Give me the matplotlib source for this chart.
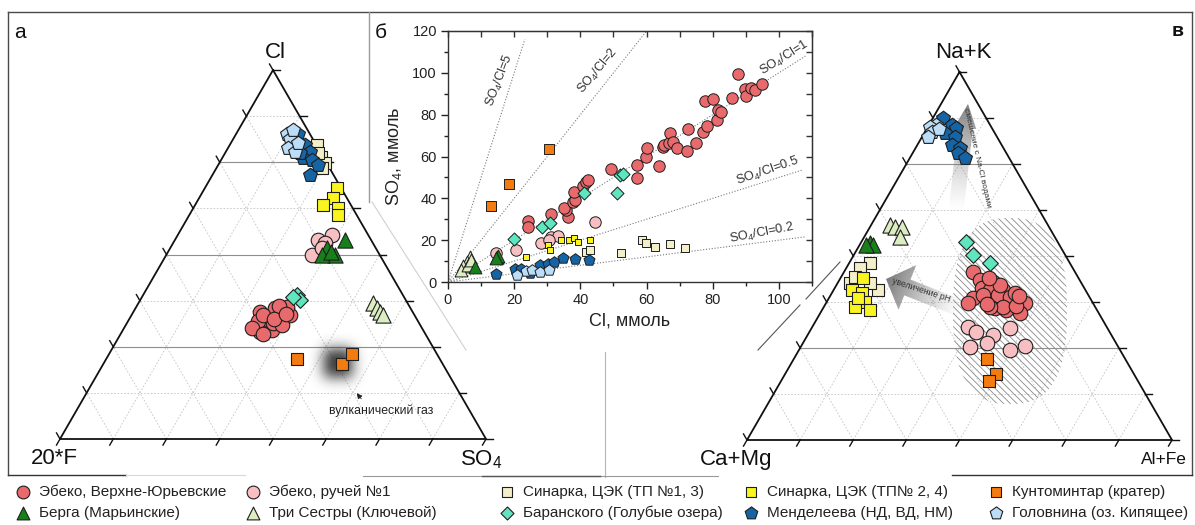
import numpy as np
import matplotlib
matplotlib.use('Agg')
import matplotlib.pyplot as plt
from matplotlib.patches import Polygon
from matplotlib.ticker import MultipleLocator

plt.rcParams['font.family'] = ['Liberation Sans', 'DejaVu Sans']
plt.rcParams['mathtext.fontset'] = 'custom'
plt.rcParams['mathtext.rm'] = 'Liberation Sans'
plt.rcParams['mathtext.it'] = 'Liberation Sans:italic'
plt.rcParams['mathtext.bf'] = 'Liberation Sans:bold'
plt.rcParams['hatch.linewidth'] = 0.6
plt.rcParams['hatch.color'] = '#7a7a7a'

# ====================== DATA ======================
series_names = ['Эбеко, Верхне-Юрьевские', 'Эбеко, ручей №1', 'Синарка, ЦЭК (ТП №1, 3)',
                'Синарка, ЦЭК (ТП№ 2, 4)', 'Кунтоминтар (кратер)', 'Берга (Марьинские)',
                'Три Сестры (Ключевой)', 'Баранского (Голубые озера)', 'Менделеева (НД, ВД, НМ)',
                'Головнина (оз. Кипящее)']

# ---- panel б : Cl vs SO4, mmol ----
b_ebeko_vy_cl = [24.2, 24.3, 31.1, 36.3, 35.8, 35.2, 37.9, 38.5, 38.1, 40.7, 41.7, 42.2, 49.2, 57.0,
                 57.0, 59.8, 60.2, 63.8, 64.9, 65.3, 66.9, 67.1, 68.1, 69.3, 72.1, 72.6, 74.9, 77.1,
                 77.6, 78.2, 80.2, 81.2, 81.7, 82.5, 85.8, 87.7, 89.9, 90.0, 91.5, 92.7, 94.8]
b_ebeko_vy_so4 = [29.2, 26.4, 32.5, 30.9, 34.4, 35.4, 38.4, 39.0, 42.9, 45.9, 47.6, 48.7, 54.0, 55.9,
                  49.6, 59.6, 63.9, 55.6, 64.7, 65.5, 66.3, 71.1, 67.1, 63.9, 62.6, 73.1, 66.3, 71.6,
                  86.7, 74.6, 87.5, 77.4, 82.2, 81.5, 87.8, 99.4, 92.1, 88.9, 92.6, 91.8, 94.6]
b_ebeko_r1_cl = [14.5, 20.4, 28.2, 31.2, 33.2, 44.4, 30.4]
b_ebeko_r1_so4 = [14.0, 15.5, 18.8, 21.5, 21.8, 28.8, 20.0]
b_sin13_cl = [41.8, 42.8, 52.2, 58.7, 59.7, 62.7, 67.0, 71.5]
b_sin13_so4 = [14.3, 15.1, 13.9, 19.9, 18.8, 16.7, 18.0, 16.4]
b_sin24_cl = [23.6, 30.2, 30.7, 34.2, 36.6, 38.1, 39.2, 42.8]
b_sin24_so4 = [12.0, 17.6, 15.2, 20.0, 20.3, 20.9, 19.3, 20.0]
b_kunt_cl = [13.0, 18.5, 30.5]
b_kunt_so4 = [36.3, 46.7, 63.5]
b_berga_cl = [8.2, 14.8, 15.2, 14.6]
b_berga_so4 = [7.3, 12.0, 12.5, 11.3]
b_tri_cl = [6.5, 5.6, 4.6, 3.8, 6.0, 7.0]
b_tri_so4 = [11.8, 9.8, 7.8, 5.6, 8.2, 10.6]
b_bar_cl = [19.9, 28.3, 30.8, 41.2, 51.0, 52.0, 53.0]
b_bar_so4 = [20.4, 26.4, 28.4, 42.7, 42.4, 51.0, 51.8]
b_mend_cl = [14.5, 20.3, 22.0, 24.7, 27.9, 30.2, 32.1, 34.7, 38.5, 42.7]
b_mend_so4 = [3.8, 6.0, 6.3, 4.3, 8.0, 8.6, 9.6, 11.6, 11.2, 10.4]
b_golov_cl = [20.8, 23.7, 25.5, 27.7, 30.5]
b_golov_so4 = [3.3, 5.2, 5.5, 4.8, 5.9]

ratio_values = [5, 2, 1, 0.5, 0.2]
ratio_labels = ['SO$_4$/Cl=5', 'SO$_4$/Cl=2', 'SO$_4$/Cl=1', 'SO$_4$/Cl=0.5', 'SO$_4$/Cl=0.2']
ratio_xmax = [23.2, 60.0, 108.0, 107.0, 108.0]

# ---- panel а : ternary Cl / SO4 / 20*F  (Cl %, SO4 %) ----
a_ebeko_vy_cl = [34.5, 30.4, 29.5, 34.5, 32.7, 33.1, 33.6, 35.4, 29.1, 31.4, 35.9, 32.0, 30.0, 33.5,
                 31.0, 36.0, 28.5, 32.5, 34.0]
a_ebeko_vy_so4 = [29.7, 32.5, 34.9, 34.4, 36.0, 32.7, 37.2, 32.8, 32.4, 34.4, 35.3, 30.5, 30.0, 31.0,
                  36.5, 33.5, 33.5, 34.0, 36.0]
a_ebeko_r1_cl = [55.3, 53.9, 49.9, 53.0, 51.8]
a_ebeko_r1_so4 = [36.2, 33.6, 34.2, 35.7, 35.6]
a_sin13_cl = [79.7, 76.5, 74.7, 73.4, 77.4]
a_sin13_so4 = [20.5, 23.1, 24.8, 24.7, 21.9]
a_sin24_cl = [67.9, 65.2, 63.4, 62.5, 60.7]
a_sin24_so4 = [31.1, 31.6, 30.0, 34.0, 34.9]
a_kunt_cl = [21.7, 20.2, 23.0]
a_kunt_so4 = [44.9, 56.2, 57.0]
a_berga_cl = [53.9, 51.7, 49.9, 49.9, 50.7]
a_berga_so4 = [39.9, 36.8, 39.6, 36.5, 38.3]
a_tri_cl = [36.8, 35.4, 34.5, 33.6]
a_tri_so4 = [55.1, 56.6, 57.9, 59.1]
a_bar_cl = [39.0, 37.7, 38.6]
a_bar_so4 = [36.1, 37.5, 35.4]
a_mend_cl = [82.8, 79.7, 77.9, 76.1, 75.6, 71.5, 74.3, 77.4]
a_mend_so4 = [14.5, 17.7, 19.8, 19.1, 21.3, 22.9, 23.5, 17.6]
a_golov_cl = [82.8, 81.2, 78.8, 77.9, 83.7, 80.1]
a_golov_so4 = [11.8, 13.4, 14.2, 16.2, 12.9, 15.8]
a_gas_cl, a_gas_so4 = 20.5, 55.1

# ---- panel в : ternary Na+K / Al+Fe / Ca+Mg  (Na+K %, Al+Fe %) ----
c_ebeko_vy_nak = [45.7, 43.5, 43.0, 41.2, 40.8, 40.8, 38.5, 38.0, 38.0, 38.0, 37.1, 34.4, 35.3, 35.8,
                  37.1, 39.4, 39.4, 38.9, 36.2, 36.2, 42.0, 44.0, 40.0, 36.5, 39.0, 37.0]
c_ebeko_vy_alfe = [30.3, 33.1, 36.5, 34.6, 36.8, 39.9, 33.9, 37.4, 40.5, 42.1, 46.8, 47.0, 43.4, 40.5,
                   33.5, 35.9, 39.4, 42.4, 42.2, 39.1, 38.5, 35.0, 43.0, 45.0, 44.5, 38.0]
c_ebeko_r1_nak = [30.8, 29.4, 28.5, 30.4, 25.4, 26.3, 24.5, 25.5]
c_ebeko_r1_alfe = [36.7, 39.3, 43.7, 46.7, 39.8, 43.3, 49.7, 52.6]
c_sin13_nak = [48.0, 46.7, 42.6, 40.8, 42.6, 44.4]
c_sin13_alfe = [4.9, 3.3, 2.9, 10.5, 7.6, 3.2]
c_sin24_nak = [43.9, 40.8, 39.9, 37.6, 36.2, 35.3, 38.6]
c_sin24_alfe = [5.4, 4.2, 7.1, 9.0, 7.3, 11.2, 6.8]
c_kunt_nak = [21.9, 17.9, 16.1]
c_kunt_alfe = [45.6, 49.6, 48.9]
c_berga_nak = [53.5, 53.0, 53.0]
c_berga_alfe = [2.2, 3.2, 1.5]
c_tri_nak = [58.4, 58.0, 58.0, 55.2]
c_tri_alfe = [4.4, 5.8, 7.4, 8.4]
c_bar_nak = [53.9, 50.3, 48.0]
c_bar_alfe = [24.6, 28.0, 33.2]
c_mend_nak = [87.4, 85.6, 84.7, 83.3, 82.4, 80.2, 79.3, 77.9, 76.5]
c_mend_alfe = [2.5, 5.4, 6.9, 4.9, 7.7, 8.1, 10.5, 10.7, 13.0]
c_golov_nak = [85.5, 85.0, 83.8, 82.4, 84.5]
c_golov_alfe = [1.8, 0.5, 1.6, 1.5, 3.0]

# ====================== STYLES ======================
EDGE = '#1e1e1e'
styles = {
    'ebeko_vy': dict(marker='o', color='#E96A6C'),
    'ebeko_r1': dict(marker='o', color='#F8BFC3'),
    'sin13': dict(marker='s', color='#F3EFC8'),
    'sin24': dict(marker='s', color='#FAF520'),
    'kunt': dict(marker='s', color='#F47B0F'),
    'berga': dict(marker='^', color='#17801A'),
    'tri': dict(marker='^', color='#DCEDC2'),
    'bar': dict(marker='D', color='#5FE6BE'),
    'mend': dict(marker='p', color='#1565A6'),
    'golov': dict(marker='p', color='#BCDDF7'),
}
keys = ['ebeko_vy', 'ebeko_r1', 'sin13', 'sin24', 'kunt', 'berga', 'tri', 'bar', 'mend', 'golov']
tern_size = {'ebeko_vy': 110, 'ebeko_r1': 110, 'sin13': 80, 'sin24': 80, 'kunt': 64, 'berga': 120,
             'tri': 120, 'bar': 64, 'mend': 110, 'golov': 110}
scat_size = {'ebeko_vy': 68, 'ebeko_r1': 68, 'sin13': 26, 'sin24': 22, 'kunt': 46, 'berga': 85,
             'tri': 85, 'bar': 44, 'mend': 70, 'golov': 70}
draw_order = ['ebeko_vy', 'ebeko_r1', 'berga', 'tri', 'sin13', 'sin24', 'bar', 'mend', 'golov', 'kunt']

# ====================== FIGURE ======================
W, H = 1195, 525
fig = plt.figure(figsize=(W / 100, H / 100), dpi=100)
cv = fig.add_axes([0, 0, 1, 1])
cv.set_xlim(0, W)
cv.set_ylim(H, 0)
cv.axis('off')

TRI_A = (273.0, 439.0, 426.0)   # apex x, base y, side (px)
TRI_C = (959.5, 440.0, 425.0)


def tern_px(top, right, tri):
    ax_, by, side = tri
    t = np.asarray(top, float) / 100.0
    r = np.asarray(right, float) / 100.0
    h = side * np.sqrt(3) / 2
    x0 = ax_ - side / 2
    return x0 + side * (r + t / 2), by - h * t


def draw_ternary(tri, solid):
    for k in range(1, 8):
        f = k / 8 * 100
        x, y = tern_px([f, f], [0, 100 - f], tri)
        if k in solid:
            cv.plot(x, y, color='#8f8f8f', lw=0.8, zorder=1)
        else:
            cv.plot(x, y, color='#c4c4c4', lw=0.6, ls=(0, (2, 2)), zorder=1)
        x, y = tern_px([0, 100 - f], [f, f], tri)
        cv.plot(x, y, color='#c4c4c4', lw=0.6, ls=(0, (2, 2)), zorder=1)
        x, y = tern_px([0, 100 - f], [100 - f, 0], tri)
        cv.plot(x, y, color='#c4c4c4', lw=0.6, ls=(0, (2, 2)), zorder=1)
    x, y = tern_px([100, 0, 0, 100], [0, 0, 100, 0], tri)
    cv.plot(x, y, color='#111111', lw=1.3, zorder=3, solid_joinstyle='miter')
    L = 7
    for k in range(0, 9):
        f = k / 8 * 100
        bx, by = tern_px(0, f, tri)
        cv.plot([bx, bx - 0.5 * L], [by, by + 0.866 * L], color='#111111', lw=1.0, zorder=3)
        rx, ry = tern_px(f, 100 - f, tri)
        cv.plot([rx, rx + L], [ry, ry], color='#111111', lw=1.0, zorder=3)
        lx, ly = tern_px(f, 0, tri)
        cv.plot([lx, lx - 0.5 * L], [ly, ly - 0.866 * L], color='#111111', lw=1.0, zorder=3)


draw_ternary(TRI_A, solid=(2, 4, 6))
draw_ternary(TRI_C, solid=(2, 6))

# ---- volcanic gas blob (panel а) ----
gx, gy = tern_px(a_gas_cl, a_gas_so4, TRI_A)
n = 80
gg = np.linspace(-30, 30, n)
GX, GY = np.meshgrid(gg, gg)
alpha = 0.85 * np.exp(-((np.abs(GX) / 17.0) ** 2.6 + (np.abs(GY) / 17.0) ** 2.6))
rgba = np.zeros((n, n, 4))
rgba[..., :3] = 0.13
rgba[..., 3] = alpha
cv.imshow(rgba, extent=(gx - 30, gx + 30, gy + 30, gy - 30), origin='upper', aspect='auto',
          interpolation='bilinear', zorder=2)
cv.annotate('', xy=(355, 391), xytext=(363, 401),
            arrowprops=dict(arrowstyle='-|>', color='#222222', lw=0.6, mutation_scale=8), zorder=6)
cv.text(381, 411, 'вулканический газ', fontsize=8.8, ha='center', va='center', color='#222222', zorder=6)

# ---- hatched field (panel в) ----
th = np.linspace(0, 2 * np.pi, 200)
ne = 2.6
hx = 1010 + 57 * np.sign(np.cos(th)) * np.abs(np.cos(th)) ** (2 / ne)
hy = 311 + 93 * np.sign(np.sin(th)) * np.abs(np.sin(th)) ** (2 / ne)
hatch_patch = Polygon(np.column_stack([hx, hy]), closed=True, facecolor='none',
                      edgecolor='#8a8a8a', lw=0, hatch='\\\\\\\\\\', zorder=2)
cv.add_patch(hatch_patch)


# ---- gradient arrows (panel в) ----
def grad_arrow(tail, tip, shaft_hw, head_hw, head_len, amax, z):
    tail = np.array(tail, float)
    tip = np.array(tip, float)
    d = tip - tail
    Lr = np.hypot(*d)
    u = d / Lr
    nrm = np.array([-u[1], u[0]])
    base = tip - u * head_len
    pts = [tail + nrm * shaft_hw, base + nrm * shaft_hw, base + nrm * head_hw, tip,
           base - nrm * head_hw, base - nrm * shaft_hw, tail - nrm * shaft_hw]
    pts = np.array(pts)
    poly = Polygon(pts, closed=True, facecolor='none', edgecolor='none', zorder=z)
    cv.add_patch(poly)
    x0, x1 = pts[:, 0].min() - 2, pts[:, 0].max() + 2
    y0, y1 = pts[:, 1].min() - 2, pts[:, 1].max() + 2
    m = 120
    X, Y = np.meshgrid(np.linspace(x0, x1, m), np.linspace(y0, y1, m))
    s = np.clip(((X - tail[0]) * u[0] + (Y - tail[1]) * u[1]) / Lr, 0, 1)
    img = np.zeros((m, m, 4))
    img[..., :3] = 0.45
    img[..., 3] = amax * s ** 1.3
    im = cv.imshow(img, extent=(x0, x1, y1, y0), origin='upper', aspect='auto',
                   interpolation='bilinear', zorder=z)
    im.set_clip_path(poly)


grad_arrow((962, 309), (886, 279), 8.5, 24, 23, 0.95, 2.5)
grad_arrow((956, 212), (968, 104), 7.5, 11, 24, 0.9, 2.5)
cv.text(921, 290, 'увеличение pH', fontsize=6.2, rotation=-18, ha='center', va='center',
        color='#333333', zorder=6, rotation_mode='anchor')
cv.text(977, 158, 'смешение с Na-Cl водами', fontsize=6.0, rotation=-77, ha='center', va='center',
        color='#333333', zorder=6, rotation_mode='anchor')

# ---- ternary points ----
tern_a = {
    'ebeko_vy': (a_ebeko_vy_cl, a_ebeko_vy_so4), 'ebeko_r1': (a_ebeko_r1_cl, a_ebeko_r1_so4),
    'sin13': (a_sin13_cl, a_sin13_so4), 'sin24': (a_sin24_cl, a_sin24_so4),
    'kunt': (a_kunt_cl, a_kunt_so4), 'berga': (a_berga_cl, a_berga_so4),
    'tri': (a_tri_cl, a_tri_so4), 'bar': (a_bar_cl, a_bar_so4),
    'mend': (a_mend_cl, a_mend_so4), 'golov': (a_golov_cl, a_golov_so4),
}
tern_c = {
    'ebeko_vy': (c_ebeko_vy_nak, c_ebeko_vy_alfe), 'ebeko_r1': (c_ebeko_r1_nak, c_ebeko_r1_alfe),
    'sin13': (c_sin13_nak, c_sin13_alfe), 'sin24': (c_sin24_nak, c_sin24_alfe),
    'kunt': (c_kunt_nak, c_kunt_alfe), 'berga': (c_berga_nak, c_berga_alfe),
    'tri': (c_tri_nak, c_tri_alfe), 'bar': (c_bar_nak, c_bar_alfe),
    'mend': (c_mend_nak, c_mend_alfe), 'golov': (c_golov_nak, c_golov_alfe),
}
for i, k in enumerate(draw_order):
    st = styles[k]
    for tdict, tri in ((tern_a, TRI_A), (tern_c, TRI_C)):
        x, y = tern_px(tdict[k][0], tdict[k][1], tri)
        cv.scatter(x, y, s=tern_size[k], marker=st['marker'], c=st['color'], edgecolors=EDGE,
                   linewidths=0.8, zorder=10 + i)

# ---- ternary vertex labels ----
cv.text(275, 52, 'Cl', fontsize=16, ha='center', va='center', color='#111111')
cv.text(54, 459, '20*F', fontsize=16, ha='center', va='center', color='#111111')
cv.text(481, 460, 'SO$_4$', fontsize=16, ha='center', va='center', color='#111111')
cv.text(963, 52, 'Na+K', fontsize=16, ha='center', va='center', color='#111111')
cv.text(736, 459, 'Ca+Mg', fontsize=16, ha='center', va='center', color='#111111')
cv.text(1164, 460, 'Al+Fe', fontsize=12.5, ha='center', va='center', color='#111111')

# panel letters
cv.text(20, 32, 'а', fontsize=15, ha='center', va='center', color='#111111')
cv.text(381, 32, 'б', fontsize=15, ha='center', va='center', color='#111111')
cv.text(1178, 32, 'в', fontsize=14, ha='center', va='center', color='#111111', fontweight='bold')

# ---- frame / separator lines ----
fc = '#4a4a4a'
cv.plot([8, 1192], [12, 12], color=fc, lw=1.0)
cv.plot([8, 8], [12, 475], color=fc, lw=1.0)
cv.plot([1192, 1192], [12, 475], color=fc, lw=1.0)
cv.plot([369, 369], [12, 202], color='#9a9a9a', lw=1.0)
cv.plot([372, 466], [202, 350], color='#d0d0d0', lw=0.8)
cv.plot([758, 800], [350, 305], color='#555555', lw=0.8)
cv.plot([806, 840], [299, 262], color='#555555', lw=0.8)
cv.plot([605, 605], [352, 477], color='#b5b5b5', lw=0.8)
cv.plot([8, 126], [475, 475], color='#333333', lw=1.0)
cv.plot([126, 245], [475, 475], color='#d8d8d8', lw=0.8)
cv.plot([363, 718], [476, 476], color='#9a9a9a', lw=0.8)
cv.plot([482, 600], [476, 476], color='#555555', lw=1.0)
cv.plot([952, 1192], [475, 475], color='#333333', lw=1.0)

# ---- legend (drawn manually, 2 rows x 5 columns) ----
leg_cols_x = [23, 253, 507, 751, 996]
leg_rows_y = [492, 513]
leg_grid = [['ebeko_vy', 'ebeko_r1', 'sin13', 'sin24', 'kunt'],
            ['berga', 'tri', 'bar', 'mend', 'golov']]
leg_size = {'o': 85, 's': 60, '^': 85, 'D': 44, 'p': 90}
for r, row in enumerate(leg_grid):
    for c, k in enumerate(row):
        st = styles[k]
        cv.scatter([leg_cols_x[c]], [leg_rows_y[r]], s=leg_size[st['marker']], marker=st['marker'],
                   c=st['color'], edgecolors=EDGE, linewidths=0.8, zorder=20)
        cv.text(leg_cols_x[c] + 16, leg_rows_y[r], series_names[keys.index(k)], fontsize=11,
                ha='left', va='center', color='#222222')

cv.set_xlim(0, W)
cv.set_ylim(H, 0)

# ====================== PANEL б ======================
ax = fig.add_axes([448 / W, 1 - 282 / H, 364 / W, 251 / H], zorder=5)
ax.set_xlim(0, 110)
ax.set_ylim(0, 120)
for rv, lab, xm in zip(ratio_values, ratio_labels, ratio_xmax):
    xs = np.array([0, xm])
    ax.plot(xs, rv * xs, color='#7a7a7a', lw=0.8, ls=(0, (1, 1.6)), zorder=1)

lab_pos = [(15.6, 96.5, 69), (45.3, 101.0, 50), (101.8, 107.0, 32), (96.5, 53.2, 19), (94.8, 23.3, 11)]
for (lx, ly, rot), lab in zip(lab_pos, ratio_labels):
    ax.text(lx, ly, lab, fontsize=9.2, rotation=rot, ha='center', va='center', color='#333333',
            rotation_mode='anchor')

scat = {
    'ebeko_vy': (b_ebeko_vy_cl, b_ebeko_vy_so4), 'ebeko_r1': (b_ebeko_r1_cl, b_ebeko_r1_so4),
    'sin13': (b_sin13_cl, b_sin13_so4), 'sin24': (b_sin24_cl, b_sin24_so4),
    'kunt': (b_kunt_cl, b_kunt_so4), 'berga': (b_berga_cl, b_berga_so4),
    'tri': (b_tri_cl, b_tri_so4), 'bar': (b_bar_cl, b_bar_so4),
    'mend': (b_mend_cl, b_mend_so4), 'golov': (b_golov_cl, b_golov_so4),
}
scat_order = ['ebeko_r1', 'ebeko_vy', 'tri', 'berga', 'sin13', 'sin24', 'bar', 'mend', 'golov', 'kunt']
for i, k in enumerate(scat_order):
    st = styles[k]
    ax.scatter(scat[k][0], scat[k][1], s=scat_size[k], marker=st['marker'], c=st['color'],
               edgecolors=EDGE, linewidths=0.7, zorder=3 + i, clip_on=False)

ax.set_xticks(np.arange(0, 101, 20))
ax.set_yticks(np.arange(0, 121, 20))
ax.xaxis.set_minor_locator(MultipleLocator(10))
ax.yaxis.set_minor_locator(MultipleLocator(10))
ax.tick_params(which='major', direction='out', length=5, width=1.0, labelsize=10.5,
               colors='#222222', pad=3)
ax.tick_params(which='minor', direction='out', length=3, width=1.0, colors='#222222')
for sp in ax.spines.values():
    sp.set_color('#333333')
    sp.set_linewidth(1.0)
sec_x = ax.secondary_xaxis('top')
sec_x.set_xticks(np.arange(0, 111, 10))
sec_x.tick_params(direction='in', length=4, width=1.0, labeltop=False, colors='#333333')
sec_y = ax.secondary_yaxis('right')
sec_y.set_yticks(np.arange(0, 121, 10))
sec_y.tick_params(direction='in', length=4, width=1.0, labelright=False, colors='#333333')
ax.set_xlabel('Cl, ммоль', fontsize=13, color='#222222', labelpad=4)
ax.set_ylabel('SO$_4$, ммоль', fontsize=13, color='#222222', labelpad=6)

fig.savefig('out.png', dpi=100)
